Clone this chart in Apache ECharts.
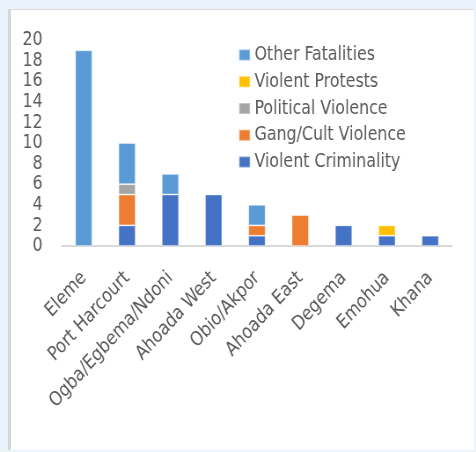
<!DOCTYPE html>
<html>
<head>
<meta charset="utf-8">
<script src="https://cdn.jsdelivr.net/npm/echarts@6/dist/echarts.min.js"></script>
<style>
  html, body { margin: 0; padding: 0; width: 476px; height: 452px; background: #EAF3FC; overflow: hidden; }
  #panel { position: absolute; left: 8px; top: 9px; width: 463px; height: 440px; background: #fff;
           border-left: 3px solid #D6D6D6; border-top: 1px solid #D9D9D9; }
  /* chart is laid out wider and compressed horizontally to get tall, condensed lettering */
  #chart { position: absolute; left: 0; top: 0; width: 541px; height: 452px;
           transform: scaleX(0.88); transform-origin: 0 0; }
</style>
</head>
<body>
<div id="panel"></div>
<div id="chart"></div>
<script>
// Fatalities by LGA, split by incident type
const categories = ['Eleme', 'Port Harcourt', 'Ogba/Egbema/Ndoni', 'Ahoada West', 'Obio/Akpor', 'Ahoada East', 'Degema', 'Emohua', 'Khana'];
const violentCriminality = [0, 2, 5, 5, 1, 0, 2, 1, 1];
const gangCultViolence   = [0, 3, 0, 0, 1, 3, 0, 0, 0];
const politicalViolence  = [0, 1, 0, 0, 0, 0, 0, 0, 0];
const violentProtests    = [0, 0, 0, 0, 0, 0, 0, 1, 0];
const otherFatalities    = [19, 4, 2, 0, 2, 0, 0, 0, 0];
const yTicks = [0, 2, 4, 6, 8, 10, 12, 14, 16, 18, 20];

const FONT = '"Liberation Sans Narrow", "DejaVu Sans Condensed", "Liberation Sans", sans-serif';
const TEXT = '#595959';

function bar(name, data, color) {
  return {
    name, type: 'bar', stack: 'total', data: data.map(v => v === 0 ? null : v),
    barWidth: 19.5,
    itemStyle: { color, borderColor: 'rgba(255,255,255,0.35)', borderWidth: 1 }
  };
}

const series = [
  bar('Violent Criminality', violentCriminality, '#4472C4'),
  bar('Gang/Cult Violence', gangCultViolence, '#ED7D31'),
  bar('Political Violence', politicalViolence, '#A5A5A5'),
  bar('Violent Protests', violentProtests, '#FFC000'),
  bar('Other Fatalities', otherFatalities, '#5B9BD5')
];

const chart = echarts.init(document.getElementById('chart'), null, { renderer: 'canvas' });
chart.setOption({
  animation: false,
  backgroundColor: 'transparent',
  textStyle: { fontFamily: FONT },
  grid: { left: 70.5, right: 27.5, top: 40, bottom: 206, containLabel: false },
  legend: {
    orient: 'vertical', left: 265.7, top: 40,
    data: series.map(s => s.name).reverse(),
    icon: 'rect', itemWidth: 12.5, itemHeight: 11, itemGap: 6.75,
    textStyle: { fontFamily: FONT, fontSize: 20, color: TEXT, lineHeight: 20 }
  },
  xAxis: {
    type: 'category', data: categories,
    axisLine: { lineStyle: { color: '#D9D9D9', width: 2 } },
    axisTick: { show: false },
    axisLabel: { rotate: 44, margin: 29, interval: 0, fontFamily: FONT, fontSize: 20, color: TEXT }
  },
  yAxis: {
    type: 'value', min: yTicks[0], max: yTicks[yTicks.length - 1], interval: 2,
    axisLine: { show: false }, axisTick: { show: false }, splitLine: { show: false },
    axisLabel: { margin: 22, fontFamily: FONT, fontSize: 20, color: TEXT }
  },
  series
});
</script>
</body>
</html>
